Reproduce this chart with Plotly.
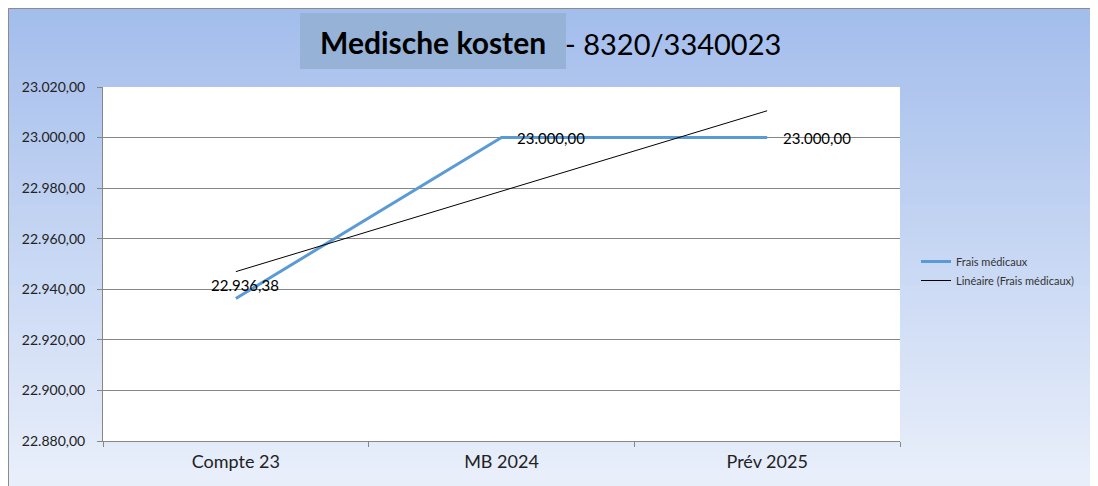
import numpy as np
import plotly.graph_objects as go

categories = ["Compte 23", "MB 2024", "Prév 2025"]
values = [22936.38, 23000.00, 23000.00]
series_name = "Frais médicaux"
trend_name = "Linéaire (Frais médicaux)"
title_main = "Medische kosten"
title_sub = "- 8320/3340023"

OFF = 8  # page body margin
W, H = 1098 - OFF, 486 - OFF
# plot area in screen pixels
SL, SR, ST, SB = 103, 900, 87, 441
ML, MR, MT, MB = SL - OFF, W - (SR - OFF), ST - OFF, H - (SB - OFF)
PW, PH = W - ML - MR, H - MT - MB


def px_x(px):
    return (px - OFF - ML) / PW


def px_y(py):
    return (H - MB - (py - OFF)) / PH


def fmt_eu(v):
    s = f"{v:,.2f}"
    return s.replace(",", "X").replace(".", ",").replace("X", ".")


xi = np.arange(len(values))
slope, intercept = np.polyfit(xi, values, 1)
trend = slope * xi + intercept

fig = go.Figure()
fig.add_trace(go.Scatter(x=categories, y=values, mode="lines", name=series_name,
                         line=dict(color="#5b9bd5", width=3)))
fig.add_trace(go.Scatter(x=categories, y=trend, mode="lines", name=trend_name,
                         line=dict(color="#000000", width=1)))

shapes = []
top_c = np.array([163, 189, 236])
bot_c = np.array([234, 240, 251])
y0, y1 = 5, 486
n = 60
for i in range(n):
    a = y0 + (y1 - y0) * i / n
    b = y0 + (y1 - y0) * (i + 1) / n
    t = (i + 0.5) / n
    c = (top_c * (1 - t) + bot_c * t).astype(int)
    shapes.append(dict(type="rect", xref="paper", yref="paper", layer="below",
                       x0=px_x(OFF - 2), x1=px_x(1100), y0=px_y(a - 0.5), y1=px_y(b + 0.5),
                       line=dict(width=0), fillcolor=f"rgb({c[0]},{c[1]},{c[2]})"))
shapes.append(dict(type="rect", xref="paper", yref="paper", layer="below",
                   x0=px_x(OFF + 0.5), x1=px_x(1105), y0=px_y(OFF + 0.5), y1=px_y(495),
                   line=dict(width=1, color="#8c8c8c"), fillcolor="rgba(0,0,0,0)"))
shapes.append(dict(type="rect", xref="paper", yref="paper", layer="below",
                   x0=0, x1=1, y0=0, y1=1, line=dict(width=0), fillcolor="white"))
shapes.append(dict(type="rect", xref="paper", yref="paper", layer="below",
                   x0=px_x(300), x1=px_x(566), y0=px_y(69), y1=px_y(13),
                   line=dict(width=0), fillcolor="rgb(150,178,215)"))

annotations = [
    dict(text=f"<b>{title_main}</b>", xref="paper", yref="paper", x=px_x(433), y=px_y(42),
         xanchor="center", yanchor="middle", showarrow=False,
         font=dict(family="Lato", size=30, color="black")),
    dict(text=title_sub, xref="paper", yref="paper", x=px_x(563), y=px_y(44),
         xanchor="left", yanchor="middle", showarrow=False,
         font=dict(family="Lato", size=29, color="black")),
]
label_pos = [dict(xanchor="center", xshift=9, yshift=13),
             dict(xanchor="left", xshift=13, yshift=0),
             dict(xanchor="left", xshift=14, yshift=0)]
for cat, v, p in zip(categories, values, label_pos):
    annotations.append(dict(x=cat, y=v, text=fmt_eu(v), showarrow=False,
                            xanchor=p["xanchor"], yanchor="middle",
                            xshift=p["xshift"], yshift=p["yshift"],
                            font=dict(family="Lato", size=15, color="black")))

fig.update_layout(
    width=W, height=H,
    margin=dict(l=ML, r=MR, t=MT, b=MB, pad=0),
    paper_bgcolor="white", plot_bgcolor="white",
    separators=",.",
    shapes=shapes, annotations=annotations,
    font=dict(family="Lato", size=13, color="#222222"),
    showlegend=True,
    legend=dict(x=px_x(916), y=px_y(247), xanchor="left", yanchor="top",
                bgcolor="rgba(0,0,0,0)", font=dict(size=11, color="#333333"),
                itemwidth=30, tracegroupgap=0),
    xaxis=dict(range=[-0.5, 2.5], showgrid=False, showline=True, linecolor="#868686",
               ticks="outside", tickson="boundaries", ticklen=5, tickcolor="#868686",
               ticklabelstandoff=4,
               tickfont=dict(size=18, color="#222222"), fixedrange=True),
    yaxis=dict(range=[22880, 23020], dtick=20, tickformat=",.2f", showgrid=True,
               gridcolor="#868686", gridwidth=1, showline=True, linecolor="#868686",
               ticks="outside", ticklen=5, tickcolor="#868686", zeroline=False,
               ticklabelstandoff=9,
               tickfont=dict(size=14, color="#222222"), fixedrange=True),
)

fig.write_html("out.html")
